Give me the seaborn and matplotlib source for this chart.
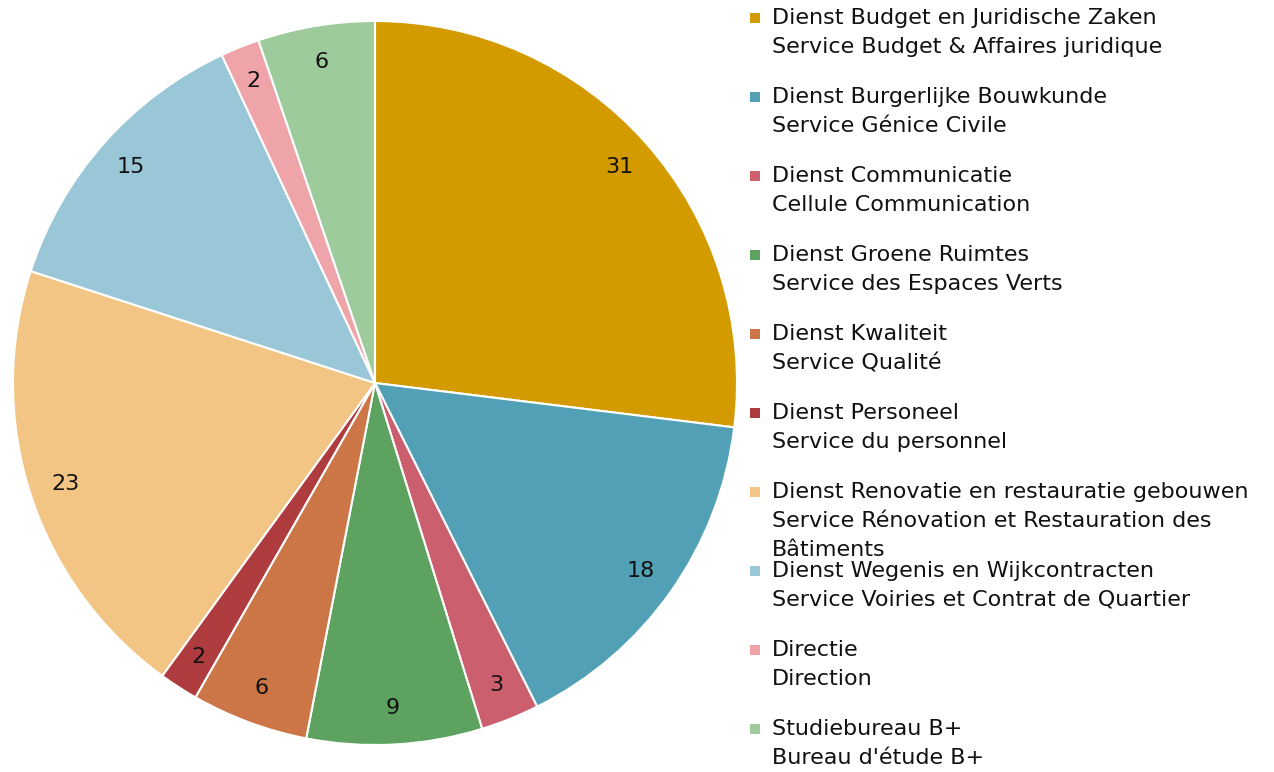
import matplotlib
matplotlib.use("Agg")
import matplotlib.pyplot as plt
import seaborn as sns
from matplotlib.patches import Rectangle

sns.set_theme(style="white")
plt.rcParams['font.family'] = ['DejaVu Sans']

labels_nl = ["Dienst Budget en Juridische Zaken", "Dienst Burgerlijke Bouwkunde",
             "Dienst Communicatie", "Dienst Groene Ruimtes", "Dienst Kwaliteit",
             "Dienst Personeel", "Dienst Renovatie en restauratie gebouwen",
             "Dienst Wegenis en Wijkcontracten", "Directie", "Studiebureau B+"]
labels_fr = ["Service Budget & Affaires juridique", "Service Génice Civile",
             "Cellule Communication", "Service des Espaces Verts", "Service Qualité",
             "Service du personnel", "Service Rénovation et Restauration des\nBâtiments",
             "Service Voiries et Contrat de Quartier", "Direction", "Bureau d'étude B+"]
values = [31, 18, 3, 9, 6, 2, 23, 15, 2, 6]
colors = ["#D49B00", "#52A0B5", "#CC5F6E", "#5DA25E", "#CC7647",
          "#AE3C3E", "#F2C584", "#9AC7D7", "#EFA4AA", "#9ECB9C"]

W, H = 1274, 772
fig = plt.figure(figsize=(W / 100, H / 100), dpi=100)
cx, cy, R = 375, 383, 362
ax = fig.add_axes([(cx - R) / W, (H - cy - R) / H, 2 * R / W, 2 * R / H])
total = sum(values)
wedges, texts, autotexts = ax.pie(
    values, colors=colors, startangle=90, counterclock=False,
    autopct=lambda p: f"{round(p * total / 100)}", pctdistance=0.9,
    wedgeprops=dict(edgecolor="white", linewidth=1.5),
    textprops=dict(fontsize=16, color="#111111"))
ax.set_xlim(-1, 1)
ax.set_ylim(-1, 1)
ax.set_aspect("equal")
ax.axis("off")

# legend
x_sq, x_txt = 755, 772
fs = 16
for i, (nl, fr) in enumerate(zip(labels_nl, labels_fr)):
    y = 18 + i * 79
    fig.patches.append(Rectangle(((x_sq - 5) / W, (H - y - 5) / H), 10 / W, 10 / H,
                                 transform=fig.transFigure, facecolor=colors[i],
                                 edgecolor="none"))
    fig.text(x_txt / W, (H - y) / H, nl, fontsize=fs, va="center", ha="left",
             color="#111111")
    lines = fr.split("\n")
    for j, ln in enumerate(lines):
        fig.text(x_txt / W, (H - y - 29 * (j + 1)) / H, ln, fontsize=fs,
                 va="center", ha="left", color="#111111")

fig.savefig("out.png", dpi=100)
